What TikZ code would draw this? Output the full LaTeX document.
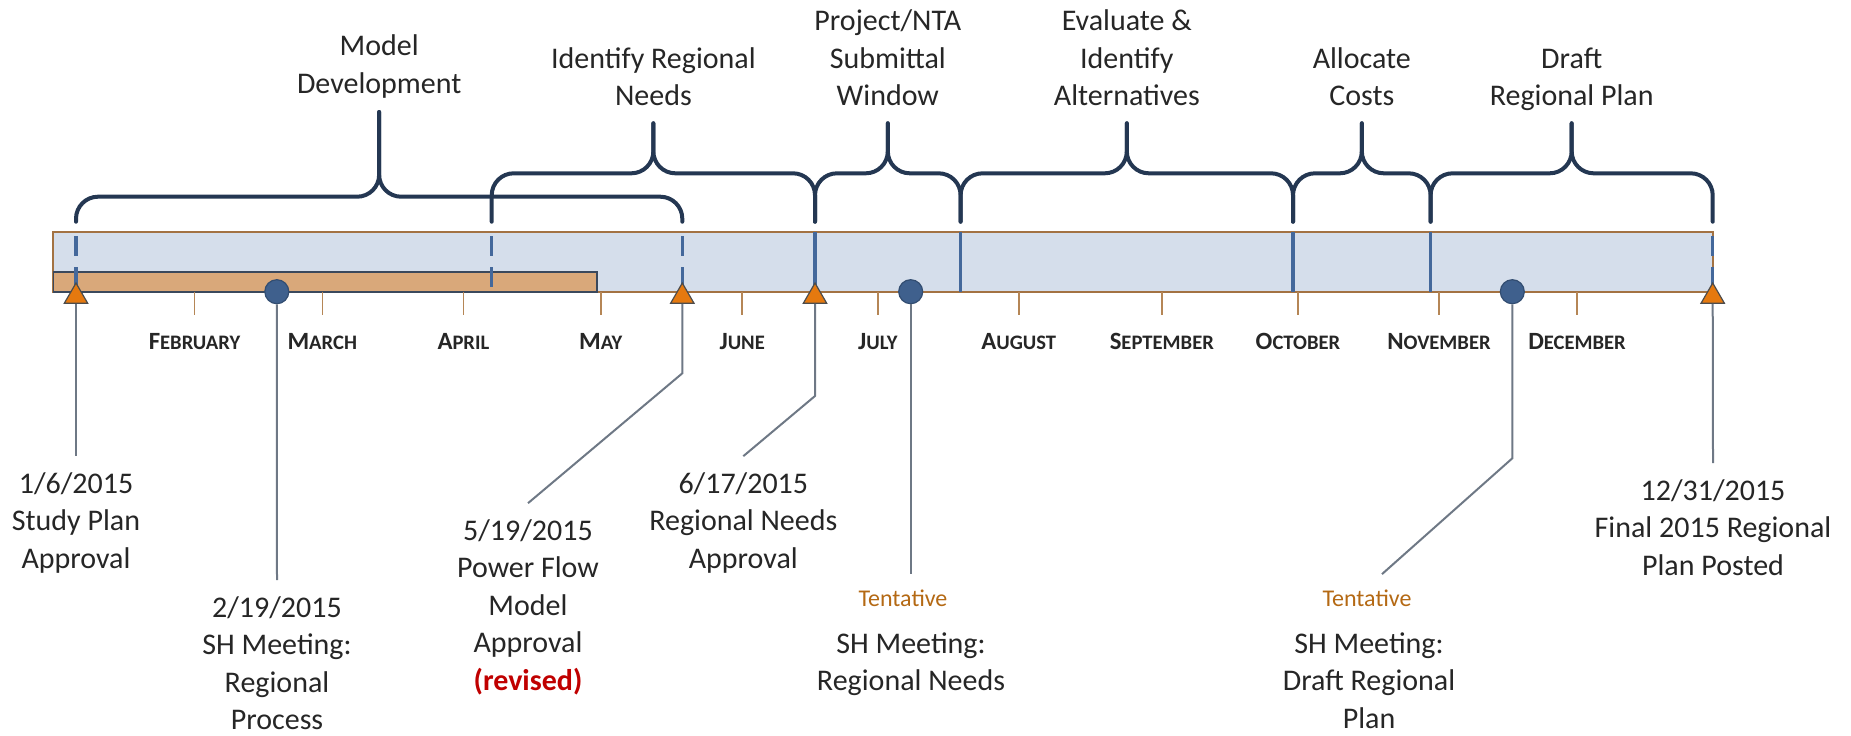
\documentclass[tikz,border=0pt]{standalone}
\usepackage{fontspec}
\setmainfont{Carlito}
\usepackage{tikz}
\usetikzlibrary{shapes.geometric,positioning,calc}

\definecolor{barblue}{RGB}{213,222,235}
\definecolor{barbrown}{RGB}{163,114,66}
\definecolor{tanbar}{RGB}{217,168,122}
\definecolor{slate}{RGB}{58,72,92}
\definecolor{navy}{RGB}{36,55,82}
\definecolor{phaseblue}{RGB}{68,104,155}
\definecolor{markblue}{RGB}{63,96,141}
\definecolor{markorange}{RGB}{229,121,15}
\definecolor{leadgray}{RGB}{110,120,133}
\definecolor{tickbrown}{RGB}{181,134,86}
\definecolor{txtgray}{RGB}{38,38,38}
\definecolor{tentbrown}{RGB}{180,105,20}
\definecolor{revred}{RGB}{192,0,0}

\newcommand{\mon}[2]{{\fontsize{12.4}{13}\selectfont #1}{\fontsize{10.3}{11}\selectfont #2}}
% phase brace: left x, right x, height of bar, top of tip
\newcommand{\phasebrace}[4]{%
  \draw[brace] (#1,221.7) -- (#1,#3) -- ({(#1+#2)/2},#3) -- ({(#1+#2)/2},#4);
  \draw[brace] (#2,221.7) -- (#2,#3) -- ({(#1+#2)/2},#3) -- ({(#1+#2)/2},#4);
}

\tikzset{
  brace/.style={draw=navy,line width=2pt,rounded corners=11pt,line cap=round},
  lbl/.style={align=center,inner sep=0pt,outer sep=8pt,text=txtgray,
    font=\fontsize{15}{18.75}\selectfont,anchor=base},
  toplbl/.style={lbl,outer sep=0pt},
  tent/.style={inner sep=0pt,outer sep=8pt,text=tentbrown,
    font=\fontsize{12}{14}\selectfont,anchor=base},
  month/.style={inner sep=0pt,anchor=base,text=black!85,font=\bfseries},
  tick/.style={draw=tickbrown,line width=0.8pt},
  tri/.style={regular polygon,regular polygon sides=3,minimum size=13.5pt,
    inner sep=0pt,fill=markorange,draw=black!70,line width=0.6pt},
  dot/.style={circle,minimum size=12pt,inner sep=0pt,fill=markblue,
    draw=markblue!80!black,line width=0.6pt},
  leader/.style={draw=leadgray,line width=1pt},
  phase/.style={draw=phaseblue,line width=1.7pt},
}

\begin{document}
\begin{tikzpicture}[x=0.5pt,y=-0.5pt]
  \useasboundingbox (0,0) rectangle (1851,735);

  % the year bar
  \draw[fill=barblue,draw=barbrown,line width=1pt] (53.3,231.7) rectangle (1712.7,291.7);
  \draw[fill=tanbar,draw=slate,line width=0.8pt] (53.3,271.7) rectangle (596.7,291.7);

  \foreach \x/\a/\b [count=\i] in {194.5/F/EBRUARY,322.3/M/ARCH,463.4/A/PRIL,
      600.8/M/AY,742.2/J/UNE,877.8/J/ULY,1018.7/A/UGUST,1161.8/S/EPTEMBER,
      1298/O/CTOBER,1439/N/OVEMBER,1577/D/ECEMBER}{
    \draw[tick] (\x,291.7) -- (\x,315);
    \node[month] (mon\i) at (\x,349) {\mon{\a}{\b}};
  }

  % phase limits inside the bar
  \foreach \x in {76,491.7,682.3,1712.7}
    \draw[phase,dash pattern=on 10pt off 5.5pt] (\x,236) -- (\x,288);
  \foreach \x in {815,960.6,1293,1430.6}
    \draw[phase] (\x,231.7) -- (\x,291.7);

  % braces and phase names (base = last line)
  \phasebrace{76}{682.3}{196.7}{112}
  \phasebrace{491.7}{815}{173.3}{123.3}
  \phasebrace{815}{960.6}{173.3}{123.3}
  \phasebrace{960.6}{1293}{173.3}{123.3}
  \phasebrace{1293}{1430.6}{173.3}{123.3}
  \phasebrace{1430.6}{1712.7}{173.3}{123.3}

  \node[toplbl] (p1) at (379.2,93) {Model\\Development};
  \node[toplbl] (p2) at (653.4,105.5) {Identify Regional\\Needs};
  \node[toplbl] (p3) at (887.8,105.5) {Project/NTA\\Submittal\\Window};
  \node[toplbl] (p4) at (1126.8,105.5) {Evaluate \&\\Identify\\Alternatives};
  \node[toplbl] (p5) at (1361.8,105.5) {Allocate\\Costs};
  \node[toplbl] (p6) at (1571.7,105.5) {Draft\\Regional Plan};

  % milestones
  \node[tri] (m1) at (76,296.5) {};
  \node[dot] (m2) at (276.8,291.7) {};
  \node[tri] (m3) at (682.3,296.5) {};
  \node[tri] (m4) at (815,296.5) {};
  \node[dot] (m5) at (910.7,291.7) {};
  \node[dot] (m6) at (1512.3,291.7) {};
  \node[tri] (m7) at (1712.7,296.5) {};

  \node[lbl] (l1) at (76,568) {1/6/2015\\Study Plan\\Approval};
  \node[lbl] (l2) at (277,729.5) {2/19/2015\\SH Meeting:\\Regional\\Process};
  \node[lbl] (l3) at (528,690) {5/19/2015\\Power Flow\\Model\\Approval\\%
    {\color{revred}\bfseries (revised)}};
  \node[lbl] (l4) at (743.3,568) {6/17/2015\\Regional Needs\\Approval};
  \node[tent] (t5) at (903,606.7) {Tentative};
  \node[lbl] (l5) at (911,690.8) {SH Meeting:\\Regional Needs};
  \node[tent] (t6) at (1367,606.7) {Tentative};
  \node[lbl] (l6) at (1369,728.3) {SH Meeting:\\Draft Regional\\Plan};
  \node[lbl] (l7) at (1713,575) {12/31/2015\\Final 2015 Regional\\Plan Posted};

  \coordinate (b3) at (682.3,373.3);
  \coordinate (b4) at (815,396);
  \coordinate (b6) at (1512.3,458.3);

  \draw[leader] (m1.south) -- (l1.north);
  \draw[leader] (m2.south) -- (l2.north);
  \draw[leader] (m3.south) -- (b3) -- (l3.north);
  \draw[leader] (m4.south) -- (b4) -- (l4.north);
  \draw[leader] (m5.south) -- (m5.south |- t5.north);
  \draw[leader] (m6.south) -- (b6) -- ([xshift=7.5pt]t6.north);
  \draw[leader] (m7.south) -- (l7.north);
\end{tikzpicture}
\end{document}
